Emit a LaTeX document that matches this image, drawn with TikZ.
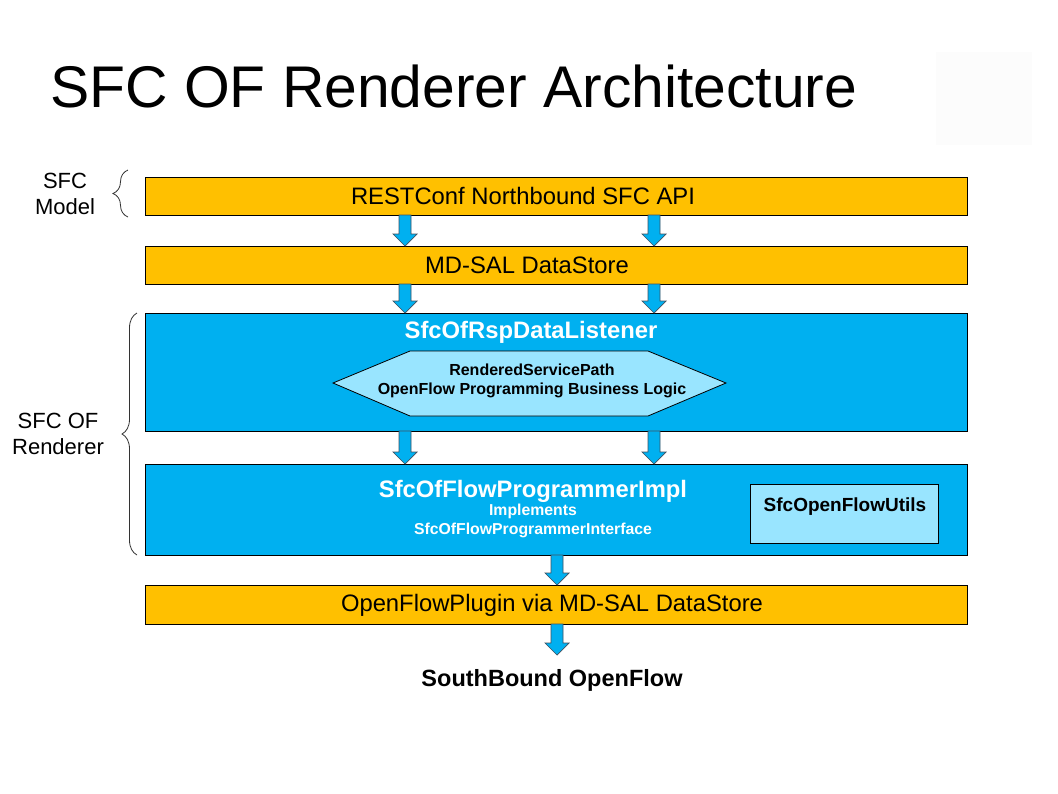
\documentclass[tikz,border=0pt]{standalone}
\usepackage{fontspec}
\setmainfont{Liberation Sans}
\usetikzlibrary{decorations.pathreplacing}
\definecolor{orng}{HTML}{FFC000}
\definecolor{blu}{HTML}{00B0F0}
\definecolor{lblu}{HTML}{99E5FF}
\definecolor{arrline}{HTML}{3F5060}
\newcommand\fs[2]{\fontsize{#1}{#2}\selectfont}
\newcommand\dnarrow[3]{\draw[arrowsty] (#1-6,#2) -- (#1+6,#2) -- (#1+6,#3-12) -- (#1+12,#3-12) -- (#1,#3) -- (#1-12,#3-12) -- (#1-6,#3-12) -- cycle;}
\begin{document}
\begin{tikzpicture}[x=1pt,y=-1pt,
  layerbox/.style={draw=black, line width=0.9pt, anchor=north west, minimum width=822pt, inner sep=0pt},
  orangebox/.style={layerbox, fill=orng},
  bluebox/.style={layerbox, fill=blu},
  boxtxt/.style={font=\fs{23.8}{28}, inner sep=0pt},
  arrowsty/.style={fill=blu, draw=arrline, line width=0.7pt, line join=miter},
  lbl/.style={align=center, font=\fs{22}{26}, inner sep=0pt},
  bracesty/.style={draw=black!80, line width=0.8pt, decorate, decoration={brace, amplitude=15pt}},
  whitetxt/.style={text=white, font=\bfseries\fs{23.8}{28}, inner sep=0pt},
]
\useasboundingbox[fill=white] (0,0) rectangle (1058,793);
\fill[black!1] (936,52) rectangle (1032,145);
\node[anchor=base west, inner sep=0pt, font=\fs{58.8}{70}] (title) at (50,107) {SFC OF Renderer Architecture};

\node[orangebox, minimum height=38pt] (rest) at (145,177) {};
\node[boxtxt] (resttxt) at (523,196) {RESTConf Northbound SFC API};
\node[orangebox, minimum height=38pt] (mdsal) at (145,246) {};
\node[boxtxt] (mdsaltxt) at (527,265) {MD-SAL DataStore};
\node[bluebox, minimum height=118pt] (listener) at (145,313) {};
\node[bluebox, minimum height=91pt] (prog) at (145,464) {};
\node[orangebox, minimum height=39pt] (ofp) at (145,585) {};
\node[boxtxt] (ofptxt) at (552,605) {OpenFlowPlugin via MD-SAL DataStore};

\node[whitetxt] (listenertitle) at (531,332) {SfcOfRspDataListener};
\draw[fill=lblu, draw=black, line width=0.8pt] (333,383) -- (410,351) -- (648,351) -- (726,383) -- (648,416) -- (410,416) -- cycle;
\node[align=center, font=\bfseries\fs{16}{19}, inner sep=0pt] (hex) at (532,381) {RenderedServicePath\\OpenFlow Programming Business Logic};

\node[whitetxt] (progtitle) at (533,491) {SfcOfFlowProgrammerImpl};
\node[align=center, text=white, font=\bfseries\fs{15.8}{19}, inner sep=0pt] (progsub) at (533,521) {Implements\\SfcOfFlowProgrammerInterface};
\node[draw=black, line width=0.8pt, fill=lblu, minimum width=188pt, minimum height=59pt, anchor=north west, inner sep=0pt] (utils) at (750,484) {};
\node[font=\bfseries\fs{19}{22}, inner sep=0pt] (utilstxt) at (845,507) {SfcOpenFlowUtils};

\node[font=\bfseries\fs{23.5}{28}, inner sep=0pt] (south) at (552,680) {SouthBound OpenFlow};

\dnarrow{405}{215}{246}
\dnarrow{654}{215}{246}
\dnarrow{405}{284}{313}
\dnarrow{654}{284}{313}
\dnarrow{405}{431}{464}
\dnarrow{654}{431}{464}
\dnarrow{557}{555}{585}
\dnarrow{557}{624}{655}

\node[lbl] (sfcmodel) at (65,194) {SFC\\Model};
\node[lbl] (sfcof) at (58,434) {SFC OF\\Renderer};
\draw[bracesty] (128,217) -- (128,170);
\draw[bracesty] (137,555) -- (137,313);
\end{tikzpicture}
\end{document}
